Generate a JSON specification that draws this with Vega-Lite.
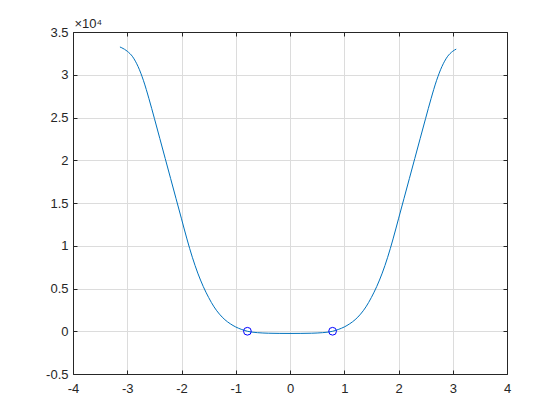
{
  "$schema": "https://vega.github.io/schema/vega-lite/v6.json",
  "width": 434,
  "height": 342,
  "autosize": {"type": "none"},
  "padding": {"left": 73, "top": 32, "right": 53, "bottom": 46},
  "background": "white",
  "config": {
    "view": {"stroke": null},
    "font": "Liberation Sans",
    "axis": {
      "domainColor": "#262626",
      "domainWidth": 1,
      "tickColor": "#262626",
      "tickWidth": 1,
      "tickSize": -4,
      "labelColor": "#262626",
      "labelFont": "Liberation Sans",
      "labelFontSize": 13,
      "gridColor": "#dcdcdc",
      "gridWidth": 1,
      "title": null
    }
  },
  "datasets": {
    "curve": [
      {"x": -3.135, "y": 33250},
      {"x": -3.1, "y": 33150},
      {"x": -3.0, "y": 32750},
      {"x": -2.9, "y": 32100},
      {"x": -2.8, "y": 30950},
      {"x": -2.7, "y": 29300},
      {"x": -2.6, "y": 27200},
      {"x": -2.5, "y": 24900},
      {"x": -2.4, "y": 22550},
      {"x": -2.3, "y": 20200},
      {"x": -2.2, "y": 17850},
      {"x": -2.1, "y": 15500},
      {"x": -2.0, "y": 13150},
      {"x": -1.9, "y": 10800},
      {"x": -1.8, "y": 8650},
      {"x": -1.7, "y": 6800},
      {"x": -1.6, "y": 5250},
      {"x": -1.5, "y": 3950},
      {"x": -1.4, "y": 2850},
      {"x": -1.3, "y": 2000},
      {"x": -1.2, "y": 1350},
      {"x": -1.1, "y": 870},
      {"x": -1.0, "y": 500},
      {"x": -0.9, "y": 230},
      {"x": -0.785, "y": 0},
      {"x": -0.7, "y": -100},
      {"x": -0.6, "y": -165},
      {"x": -0.5, "y": -205},
      {"x": -0.4, "y": -230},
      {"x": -0.2, "y": -250},
      {"x": 0, "y": -255},
      {"x": 0.2, "y": -250},
      {"x": 0.4, "y": -230},
      {"x": 0.5, "y": -205},
      {"x": 0.6, "y": -165},
      {"x": 0.7, "y": -100},
      {"x": 0.785, "y": 0},
      {"x": 0.9, "y": 230},
      {"x": 1.0, "y": 500},
      {"x": 1.1, "y": 870},
      {"x": 1.2, "y": 1350},
      {"x": 1.3, "y": 2000},
      {"x": 1.4, "y": 2850},
      {"x": 1.5, "y": 3950},
      {"x": 1.6, "y": 5250},
      {"x": 1.7, "y": 6800},
      {"x": 1.8, "y": 8650},
      {"x": 1.9, "y": 10800},
      {"x": 2.0, "y": 13150},
      {"x": 2.1, "y": 15500},
      {"x": 2.2, "y": 17850},
      {"x": 2.3, "y": 20200},
      {"x": 2.4, "y": 22550},
      {"x": 2.5, "y": 24900},
      {"x": 2.6, "y": 27200},
      {"x": 2.7, "y": 29300},
      {"x": 2.8, "y": 30950},
      {"x": 2.9, "y": 32100},
      {"x": 3.0, "y": 32750},
      {"x": 3.064, "y": 33000}
    ],
    "roots": [
      {"x": -0.785, "y": 0},
      {"x": 0.785, "y": 0}
    ]
  },
  "layer": [
    {
      "data": {"name": "curve"},
      "mark": {"type": "line", "color": "#0072BD", "strokeWidth": 1, "interpolate": "monotone"},
      "encoding": {
        "x": {
          "field": "x", "type": "quantitative",
          "scale": {"domain": [-4, 4], "nice": false, "zero": false},
          "axis": {"orient": "bottom", "values": [-4, -3, -2, -1, 0, 1, 2, 3, 4], "grid": true, "labelPadding": 12, "labelExpr": "'' + datum.value", "labelFlush": false}
        },
        "y": {
          "field": "y", "type": "quantitative",
          "scale": {"domain": [-5000, 35000], "nice": false, "zero": false},
          "axis": {
            "orient": "left",
            "values": [-5000, 0, 5000, 10000, 15000, 20000, 25000, 30000, 35000],
            "grid": true, "labelPadding": 9, "labelFlush": false,
            "labelExpr": "'' + datum.value / 10000",
            "title": "×10⁴", "titleAngle": 0, "titleAlign": "left", "titleBaseline": "alphabetic",
            "titleX": 1, "titleY": -5, "titleFontSize": 13, "titleFontWeight": "normal",
            "titleColor": "#262626", "titleFont": "Liberation Sans"
          }
        }
      }
    },
    {
      "data": {"name": "roots"},
      "mark": {"type": "point", "shape": "circle", "filled": false, "color": "#0000FF", "size": 60, "strokeWidth": 1, "opacity": 1},
      "encoding": {
        "x": {
          "field": "x", "type": "quantitative",
          "axis": {"orient": "top", "values": [-4, -3, -2, -1, 0, 1, 2, 3, 4], "grid": false, "labels": false}
        },
        "y": {
          "field": "y", "type": "quantitative",
          "axis": {"orient": "right", "values": [-5000, 0, 5000, 10000, 15000, 20000, 25000, 30000, 35000], "grid": false, "labels": false}
        }
      }
    }
  ],
  "resolve": {"axis": {"x": "independent", "y": "independent"}}
}
